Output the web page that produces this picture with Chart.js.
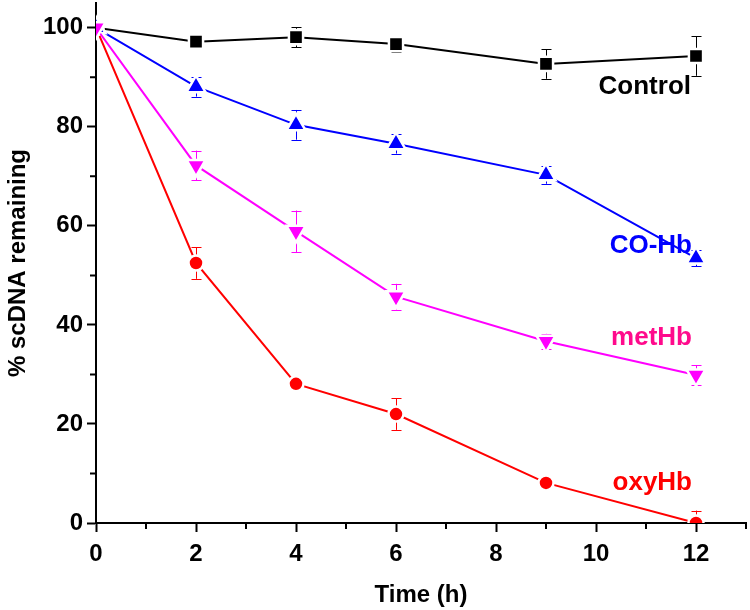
<!DOCTYPE html>
<html><head><meta charset="utf-8">
<script src="https://cdn.jsdelivr.net/npm/chart.js@4"></script>
<style>html,body{margin:0;padding:0;background:#fff}</style>
</head><body>
<canvas id="c" width="750" height="610"></canvas>
<script>
// ---- data ----
const timeH = [0, 2, 4, 6, 9, 12];
const controlVals = [100, 97.2, 98.1, 96.7, 92.7, 94.3];
const controlErr  = [0, 0.8, 2.0, 1.5, 3.0, 4.0];
const coHbVals    = [100, 88.1, 80.4, 76.6, 70.3, 53.5];
const coHbErr     = [0, 2.0, 3.0, 2.0, 1.8, 1.7];
const metHbVals   = [100, 72.2, 58.9, 45.7, 36.7, 29.9];
const metHbErr    = [0, 3.0, 4.2, 2.6, 1.5, 2.0];
const oxyHbVals   = [100, 52.5, 28.1, 22.0, 8.1, 0];
const oxyHbErr    = [0, 3.2, 1.0, 3.2, 1.0, 2.5];
const seriesNames = ['Control', 'CO-Hb', 'metHb', 'oxyHb'];
const xMajorTicks = [0, 2, 4, 6, 8, 10, 12];
const xMinorTicks = [1, 3, 5, 7, 9, 11, 13];
const yMajorTicks = [0, 20, 40, 60, 80, 100];
const yMinorTicks = [10, 30, 50, 70, 90];
const xTitle = 'Time (h)';
const yTitle = '% scDNA remaining';

const FONT = '"Liberation Sans", Arial, sans-serif';
const pts = (vals) => timeH.map((t, i) => ({x: t, y: vals[i]}));

function ds(label, vals, err, color, style, radius, rot, order) {
  return {
    label, data: pts(vals), errors: err,
    borderColor: color, backgroundColor: color, borderWidth: 2,
    pointStyle: style, pointRadius: radius, pointHoverRadius: radius,
    pointRotation: rot, pointBackgroundColor: color,
    pointBorderColor: '#ffffff', pointBorderWidth: 2.5,
    tension: 0, order, clip: 0
  };
}

const errorBars = {
  id: 'errorBars',
  beforeDatasetDraw(chart, args) {
    const d = chart.data.datasets[args.index];
    const xs = chart.scales.x, ys = chart.scales.y, ctx = chart.ctx;
    ctx.save();
    ctx.strokeStyle = d.borderColor;
    ctx.lineWidth = 1;
    d.data.forEach((p, i) => {
      const e = d.errors[i];
      if (!e) return;
      const px = Math.round(xs.getPixelForValue(p.x)) + 0.5;
      const y1 = ys.getPixelForValue(p.y + e);
      const y2 = ys.getPixelForValue(Math.max(p.y - e, ys.min));
      ctx.beginPath();
      ctx.moveTo(px, y1); ctx.lineTo(px, y2);
      ctx.moveTo(px - 5, Math.round(y1) + 0.5); ctx.lineTo(px + 5, Math.round(y1) + 0.5);
      if (p.y - e > ys.min) {
        ctx.moveTo(px - 5, Math.round(y2) + 0.5); ctx.lineTo(px + 5, Math.round(y2) + 0.5);
      }
      ctx.stroke();
    });
    ctx.restore();
  }
};

const minorTicks = {
  id: 'minorTicks',
  afterDraw(chart) {
    const xs = chart.scales.x, ys = chart.scales.y, ctx = chart.ctx;
    const a = chart.chartArea;
    ctx.save();
    ctx.strokeStyle = '#000'; ctx.lineWidth = 2;
    ctx.beginPath();
    xMinorTicks.forEach(v => { const p = xs.getPixelForValue(v); ctx.moveTo(p, a.bottom); ctx.lineTo(p, a.bottom + 6); });
    yMinorTicks.forEach(v => { const p = ys.getPixelForValue(v); ctx.moveTo(a.left, p); ctx.lineTo(a.left - 6, p); });
    ctx.stroke();
    ctx.restore();
  }
};

const seriesLabels = {
  id: 'seriesLabels',
  afterDraw(chart) {
    const xs = chart.scales.x, ys = chart.scales.y, ctx = chart.ctx;
    const anchors = [
      {name: seriesNames[0], x: 11.9, y: 88.0, color: '#000000'},
      {name: seriesNames[1], x: 11.92, y: 56.0, color: '#0000FF'},
      {name: seriesNames[2], x: 11.92, y: 37.4, color: '#FF0A8C'},
      {name: seriesNames[3], x: 11.92, y: 8.1, color: '#FF0000'}
    ];
    ctx.save();
    ctx.font = 'bold 26px ' + FONT;
    ctx.textAlign = 'right'; ctx.textBaseline = 'middle';
    anchors.forEach(l => {
      ctx.fillStyle = l.color;
      ctx.fillText(l.name, xs.getPixelForValue(l.x), ys.getPixelForValue(l.y));
    });
    ctx.restore();
  }
};

const axisCommon = {
  grid: {display: true, drawOnChartArea: false, drawTicks: true, tickLength: 9, tickWidth: 2, tickColor: '#000'},
  border: {display: true, color: '#000', width: 2},
  ticks: {color: '#000', font: {family: FONT, size: 24, weight: 'bold'}}
};

new Chart(document.getElementById('c'), {
  type: 'line',
  data: {
    datasets: [
      ds(seriesNames[0], controlVals, controlErr, '#000000', 'rect', 10, 0, 4),
      ds(seriesNames[3], oxyHbVals, oxyHbErr, '#FF0000', 'circle', 7.5, 0, 3),
      ds(seriesNames[1], coHbVals, coHbErr, '#0000FF', 'triangle', 11, 0, 2),
      ds(seriesNames[2], metHbVals, metHbErr, '#FF00FF', 'triangle', 11, 180, 1)
    ]
  },
  options: {
    responsive: false, animation: false,
    layout: {autoPadding: false, padding: {top: 3, right: 4, left: 0, bottom: 0}},
    plugins: {legend: {display: false}, tooltip: {enabled: false}},
    scales: {
      x: {
        type: 'linear', min: 0, max: 13,
        ...axisCommon,
        ticks: {...axisCommon.ticks, padding: 8, maxRotation: 0},
        afterBuildTicks: s => { s.ticks = xMajorTicks.map(v => ({value: v})); },
        afterFit: s => { s.height = 87; s.paddingLeft = 0; s.paddingRight = 0; },
        title: {display: true, text: xTitle, color: '#000', font: {family: FONT, size: 24, weight: 'bold'}, padding: {top: 1, bottom: 0}}
      },
      y: {
        type: 'linear', min: 0, max: 105,
        ...axisCommon,
        ticks: {...axisCommon.ticks, padding: 4},
        afterBuildTicks: s => { s.ticks = yMajorTicks.map(v => ({value: v})); },
        afterFit: s => { s.width = 96; s.paddingTop = 0; s.paddingBottom = 0; },
        title: {display: true, text: yTitle, color: '#000', font: {family: FONT, size: 24, weight: 'bold'}, padding: {top: 4, bottom: 0}}
      }
    }
  },
  plugins: [errorBars, minorTicks, seriesLabels]
});
</script>
</body></html>
